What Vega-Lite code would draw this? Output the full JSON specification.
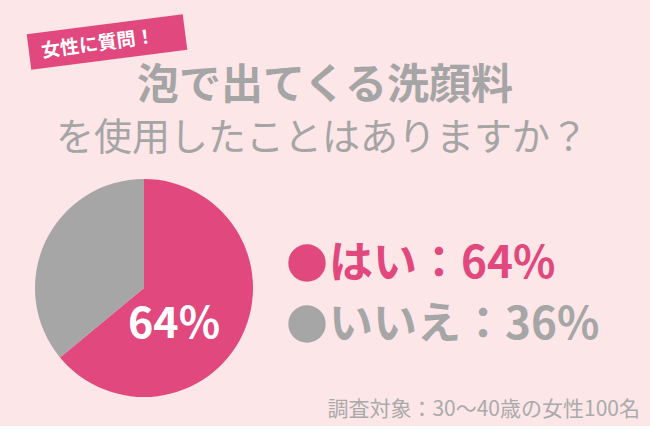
{
  "$schema": "https://vega.github.io/schema/vega-lite/v6.json",
  "background": "#fde6e8",
  "padding": 0,
  "bounds": "flush",
  "spacing": 0,
  "config": {
    "view": {"stroke": null},
    "font": "Noto Sans CJK JP",
    "concat": {"spacing": 0}
  },
  "vconcat": [
    {
      "width": 650,
      "height": 150,
      "data": {"values": [{}]},
      "layer": [
        {
          "mark": {"type": "rule", "strokeWidth": 36, "strokeCap": "butt", "color": "#e0487e"},
          "encoding": {
            "x": {"value": 29},
            "y": {"value": 52},
            "x2": {"value": 185},
            "y2": {"value": 32}
          }
        },
        {
          "mark": {"type": "text", "x": 98, "y": 44, "angle": -7.5, "text": "女性に質問！", "fontSize": 19, "fontWeight": "bold", "color": "#ffffff", "align": "center", "baseline": "middle"}
        },
        {
          "mark": {"type": "text", "x": 325, "y": 86, "text": "泡で出てくる洗顔料", "fontSize": 42, "fontWeight": "bold", "color": "#a5a5a5", "align": "center", "baseline": "middle"}
        },
        {
          "mark": {"type": "text", "x": 322, "y": 139, "text": "を使用したことはありますか？", "fontSize": 38, "fontWeight": "normal", "color": "#a5a5a5", "align": "center", "baseline": "middle"}
        }
      ]
    },
    {
      "data": {
        "values": [
          {"answer": "はい", "value": 0.64},
          {"answer": "いいえ", "value": 0.36}
        ]
      },
      "spacing": 0,
      "hconcat": [
        {
          "width": 288,
          "height": 276,
          "layer": [
            {
              "mark": {"type": "arc", "outerRadius": 109},
              "encoding": {
                "theta": {"field": "value", "type": "quantitative", "stack": true},
                "color": {
                  "field": "answer",
                  "type": "nominal",
                  "scale": {"domain": ["はい", "いいえ"], "range": ["#e0487e", "#a6a6a6"]},
                  "legend": null
                },
                "order": {"field": "value", "type": "quantitative", "sort": "descending"}
              }
            },
            {
              "transform": [{"filter": "datum.answer === 'はい'"}],
              "mark": {"type": "text", "dx": 30, "dy": 37, "fontSize": 43, "fontWeight": "bold", "color": "#ffffff", "align": "center", "baseline": "middle"},
              "encoding": {
                "text": {"field": "value", "type": "quantitative", "format": ".0%"}
              }
            }
          ]
        },
        {
          "width": 362,
          "height": 276,
          "layer": [
            {
              "mark": {"type": "point", "shape": "circle", "filled": true, "opacity": 1, "size": 1400},
              "encoding": {
                "x": {"value": 17},
                "y": {"field": "answer", "type": "nominal", "scale": {"domain": ["はい", "いいえ"], "range": [113, 174], "padding": 0}, "axis": null},
                "color": {"field": "answer", "type": "nominal", "scale": {"domain": ["はい", "いいえ"], "range": ["#e0487e", "#a6a6a6"]}, "legend": null}
              }
            },
            {
              "transform": [{"calculate": "datum.answer + '：' + format(datum.value, '.0%')", "as": "label"}],
              "mark": {"type": "text", "align": "left", "baseline": "middle", "fontSize": 44, "fontWeight": "bold", "dy": 2},
              "encoding": {
                "x": {"value": 39},
                "y": {"field": "answer", "type": "nominal", "scale": {"domain": ["はい", "いいえ"], "range": [113, 174], "padding": 0}, "axis": null},
                "text": {"field": "label"},
                "color": {"field": "answer", "type": "nominal", "scale": {"domain": ["はい", "いいえ"], "range": ["#e0487e", "#a6a6a6"]}, "legend": null}
              }
            },
            {
              "data": {"values": [{}]},
              "mark": {"type": "text", "x": 350, "y": 260, "text": "調査対象：30〜40歳の女性100名", "fontSize": 21, "color": "#aaaaaa", "align": "right", "baseline": "middle"}
            }
          ]
        }
      ]
    }
  ]
}
